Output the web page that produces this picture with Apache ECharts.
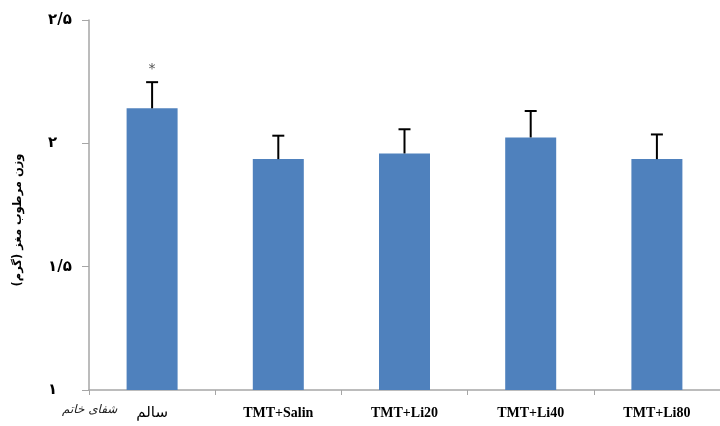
<!DOCTYPE html>
<html>
<head>
<meta charset="utf-8">
<script src="https://cdn.jsdelivr.net/npm/echarts@6/dist/echarts.min.js"></script>
<style>
html,body{margin:0;padding:0;background:#fff;}
#c{width:720px;height:426px;}
</style>
</head>
<body>
<div id="c"></div>
<script>
const categories = ['سالم', 'TMT+Salin', 'TMT+Li20', 'TMT+Li40', 'TMT+Li80'];
const values = [2.142, 1.936, 1.959, 2.024, 1.936];
const errors = [0.106, 0.095, 0.098, 0.107, 0.100];
const marks = ['*', '', '', '', ''];
const yTickLabels = {'1': '۱', '1.5': '۱/۵', '2': '۲', '2.5': '۲/۵'};
const yTitle = 'وزن مرطوب مغز (گرم)';

const chart = echarts.init(document.getElementById('c'));
const errData = values.map((v, i) => [i, v, errors[i], marks[i]]);

chart.setOption({
  animation: false,
  backgroundColor: '#fff',
  grid: {left: 89, top: 20, width: 642, height: 370, containLabel: false},
  xAxis: {
    type: 'category',
    data: categories,
    axisLine: {lineStyle: {color: '#a6a6a6', width: 1.5}},
    axisTick: {show: true, length: 5, lineStyle: {color: '#a6a6a6'}},
    axisLabel: {
      margin: 16,
      formatter: function (v) {
        return /[A-Za-z]/.test(v) ? '{en|' + v + '}' : '{fa|' + v + '}';
      },
      rich: {
        en: {fontFamily: 'Liberation Serif', fontWeight: 'bold', fontSize: 14, color: '#000'},
        fa: {fontFamily: 'DejaVu Sans', fontWeight: 'normal', fontSize: 15, color: '#000'}
      }
    }
  },
  yAxis: {
    type: 'value',
    min: 1, max: 2.5, interval: 0.5,
    name: yTitle,
    nameLocation: 'middle',
    nameRotate: 90,
    nameGap: 65,
    nameTextStyle: {fontFamily: 'DejaVu Sans', fontWeight: 'bold', fontSize: 11.5, color: '#000', padding: [0, 30, 0, 0]},
    splitLine: {show: false},
    axisLine: {show: true, lineStyle: {color: '#a6a6a6', width: 1.5}},
    axisTick: {show: true, length: 7, lineStyle: {color: '#a6a6a6'}},
    axisLabel: {
      margin: 41,
      align: 'left',
      fontFamily: 'DejaVu Sans', fontWeight: 'bold', fontSize: 15, color: '#000',
      formatter: function (v) { return yTickLabels[String(v)] || String(v); }
    }
  },
  series: [
    {
      type: 'bar',
      data: values,
      barWidth: 51,
      itemStyle: {color: '#4f81bd'}
    },
    {
      type: 'custom',
      data: errData,
      z: 10,
      renderItem: function (params, api) {
        const i = api.value(0), v = api.value(1), e = api.value(2);
        const base = api.coord([i, v]);
        const top = api.coord([i, v + e]);
        const children = [
          {type: 'line', shape: {x1: base[0], y1: base[1], x2: top[0], y2: top[1]}, style: {stroke: '#000', lineWidth: 2}},
          {type: 'line', shape: {x1: top[0] - 6, y1: top[1], x2: top[0] + 6, y2: top[1]}, style: {stroke: '#000', lineWidth: 2}}
        ];
        const m = marks[params.dataIndex];
        if (m) {
          children.push({type: 'text', x: top[0], y: top[1] - 13, style: {text: m, fill: '#555', fontSize: 14, fontFamily: 'DejaVu Sans', align: 'center', verticalAlign: 'middle'}});
        }
        return {type: 'group', children: children};
      }
    }
  ],
  graphic: [
    {type: 'text', left: 62, top: 404, style: {text: 'شفای خاتم', fontFamily: 'DejaVu Sans', fontStyle: 'italic', fontSize: 12, fill: '#222'}}
  ]
});
</script>
</body>
</html>
